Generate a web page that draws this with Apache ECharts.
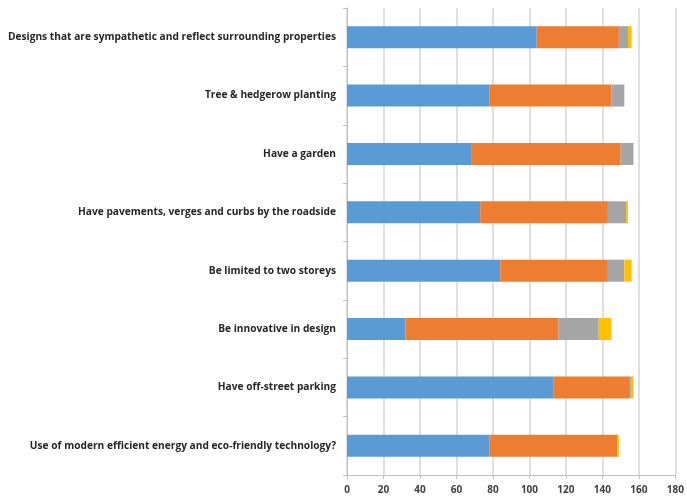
<!DOCTYPE html>
<html><head><meta charset="utf-8">
<script src="https://cdn.jsdelivr.net/npm/echarts@6/dist/echarts.min.js"></script>
<style>html,body{margin:0;padding:0;background:#fff}#c{width:687px;height:500px}</style>
</head><body><div id="c"></div>
<script>
const categories = [
  "Designs that are sympathetic and reflect surrounding properties",
  "Tree & hedgerow planting",
  "Have a garden",
  "Have pavements, verges and curbs by the roadside",
  "Be limited to two storeys",
  "Be innovative in design",
  "Have off-street parking",
  "Use of modern efficient energy and eco-friendly technology?"
];
const seriesA = [104, 78, 68, 73, 84, 32, 113, 78];
const seriesB = [45, 67, 82, 70, 59, 84, 42, 70];
const seriesC = [5, 7, 7, 10, 9, 22, 1, 0];
const seriesD = [2, 0, 0, 1, 4, 7, 1, 1];
const xTicks = [0, 20, 40, 60, 80, 100, 120, 140, 160, 180];

const colors = ['#5b9bd5', '#ed7d31', '#a5a5a5', '#ffc000'];
const chart = echarts.init(document.getElementById('c'), null, {renderer: 'canvas'});
const mk = (name, data, i) => ({
  name, type: 'bar', stack: 'total', data, barWidth: 22,
  itemStyle: {color: colors[i]}
});
chart.setOption({
  animation: false,
  grid: {left: 347, right: 6, top: 8, bottom: 25, containLabel: false},
  xAxis: {
    type: 'value', min: xTicks[0], max: xTicks[xTicks.length - 1], interval: 20,
    axisLine: {show: true, lineStyle: {color: '#bfbfbf'}},
    axisTick: {show: true, length: 4, lineStyle: {color: '#bfbfbf'}},
    splitLine: {show: true, lineStyle: {color: '#d4d4d4', width: 1.5}},
    axisLabel: {color: '#404040', fontFamily: 'Open Sans', fontSize: 10, fontWeight: 'bold', margin: 10}
  },
  yAxis: {
    type: 'category', data: categories, inverse: true,
    axisLine: {show: true, lineStyle: {color: '#bfbfbf'}},
    axisTick: {show: true, length: 4, lineStyle: {color: '#bfbfbf'}},
    axisLabel: {color: '#262626', fontFamily: 'Open Sans', fontSize: 10.2, fontWeight: 'bold', margin: 11}
  },
  series: [
    mk('A', seriesA, 0), mk('B', seriesB, 1), mk('C', seriesC, 2), mk('D', seriesD, 3)
  ]
});
</script></body></html>
